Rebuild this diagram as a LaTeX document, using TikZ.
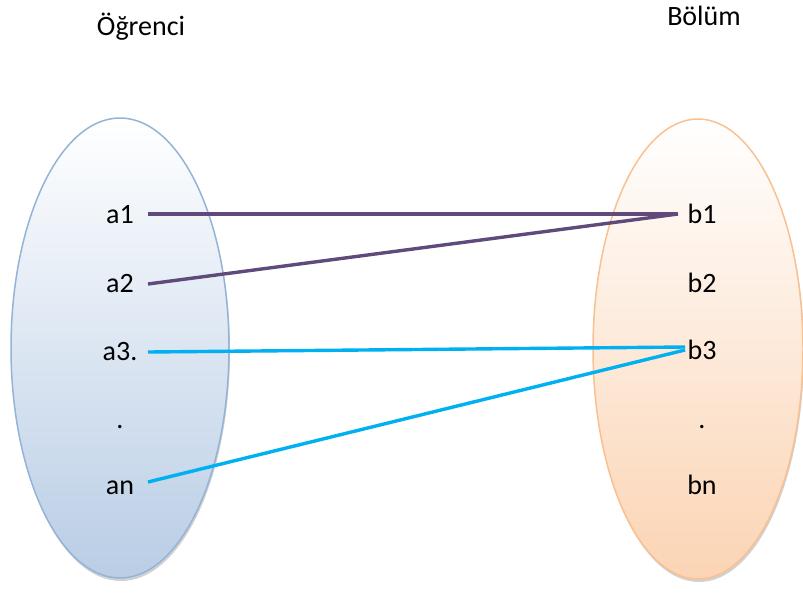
\documentclass[tikz,border=0pt]{standalone}
\usepackage{fontspec}
\setmainfont{Carlito}
\definecolor{purp}{HTML}{604A7B}
\definecolor{cyanl}{HTML}{00B0F0}
\definecolor{lblue}{HTML}{B9CDE5}
\definecolor{lbord}{HTML}{95B3D7}
\definecolor{peach}{HTML}{FBD4B4}
\definecolor{pbord}{HTML}{FAC08F}
\begin{document}
\begin{tikzpicture}[x=1pt,y=-1pt,
  lbl/.style={anchor=base,inner sep=0pt,font=\fontsize{28}{32}\selectfont},
  purpline/.style={draw=purp,line width=3.4pt},
  cyanline/.style={draw=cyanl,line width=3.4pt}]
\useasboundingbox (0,0) rectangle (803,592);
% shadows
\fill[black!40,opacity=0.45] (121,351) ellipse [x radius=109,y radius=230];
\fill[black!40,opacity=0.45] (699,352) ellipse [x radius=105,y radius=230];
% ellipses
\shade[top color=white,bottom color=lblue,draw=lbord,line width=1.5pt] (120,348) ellipse [x radius=109,y radius=230];
\shade[top color=white,bottom color=peach,draw=pbord,line width=1.5pt] (698,349) ellipse [x radius=105,y radius=230];
% titles
\node[lbl] (tl) at (141,35) {Öğrenci};
\node[lbl] (tr) at (704,25) {Bölüm};
% labels
\node[lbl] (a1) at (120,223) {a1};
\node[lbl] (a2) at (120,292) {a2};
\node[lbl] (a3) at (120,360) {a3.};
\node[lbl] (ad) at (120,428) {.};
\node[lbl] (an) at (120,494) {an};
\node[lbl] (b1) at (702,223) {b1};
\node[lbl] (b2) at (702,292) {b2};
\node[lbl] (b3) at (702,359) {b3};
\node[lbl] (bd) at (702,428) {.};
\node[lbl] (bn) at (702,494) {bn};
% connector end points
\coordinate (a1r) at (148,214);
\coordinate (a2r) at (148,284);
\coordinate (a3r) at (148,352);
\coordinate (anr) at (148,482);
\coordinate (b1l) at (678,214);
\coordinate (b3l) at (685,347);
\coordinate (b3m) at (685,350);
\draw[purpline] (a1r) -- (b1l);
\draw[purpline] (a2r) -- (b1l);
\draw[cyanline] (a3r) -- (b3l);
\draw[cyanline] (anr) -- (b3m);
\end{tikzpicture}
\end{document}
